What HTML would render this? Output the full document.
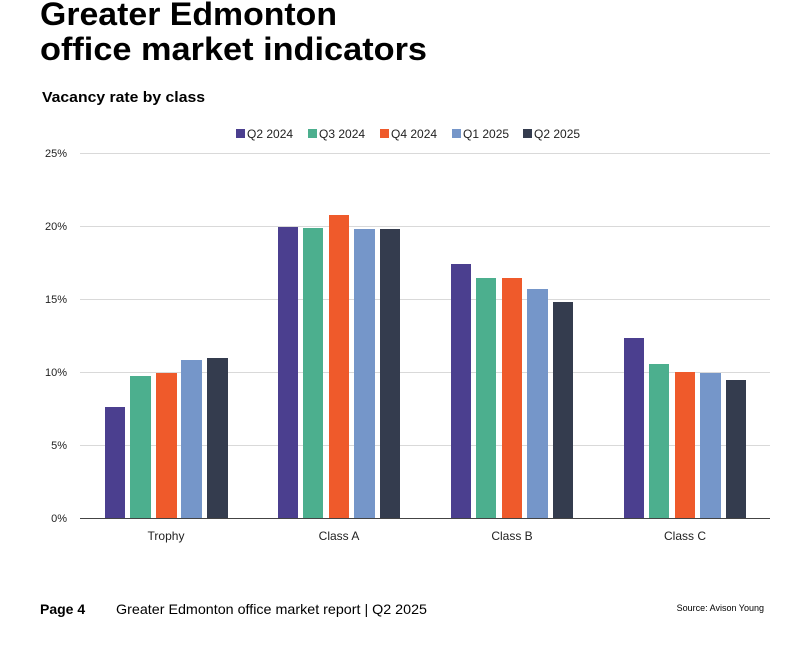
<!DOCTYPE html>
<html><head><style>
body{margin:0;background:#fff;width:789px;height:642px;overflow:hidden;font-family:"Liberation Sans",sans-serif}
</style></head><body>
<svg width="789" height="642" xmlns="http://www.w3.org/2000/svg" font-family="Liberation Sans, sans-serif">
<text x="40" y="25" font-size="32" font-weight="bold" fill="#000" textLength="297" lengthAdjust="spacingAndGlyphs">Greater Edmonton</text>
<text x="40" y="60" font-size="32" font-weight="bold" fill="#000" textLength="387" lengthAdjust="spacingAndGlyphs">office market indicators</text>
<text x="42" y="102" font-size="15" font-weight="bold" fill="#000" textLength="163" lengthAdjust="spacingAndGlyphs">Vacancy rate by class</text>
<g font-size="12" fill="#222">
<rect x="236" y="129" width="9" height="9" fill="#4b3f8f"/><text x="247" y="138">Q2 2024</text>
<rect x="308" y="129" width="9" height="9" fill="#4caf8e"/><text x="319" y="138">Q3 2024</text>
<rect x="380" y="129" width="9" height="9" fill="#ef5a2b"/><text x="391" y="138">Q4 2024</text>
<rect x="452" y="129" width="9" height="9" fill="#7596c9"/><text x="463" y="138">Q1 2025</text>
<rect x="523" y="129" width="9" height="9" fill="#343c4e"/><text x="534" y="138">Q2 2025</text>
</g>
<g stroke="#d9d9d9" stroke-width="1">
<line x1="80" y1="153.5" x2="770" y2="153.5"/><line x1="80" y1="226.5" x2="770" y2="226.5"/>
<line x1="80" y1="299.5" x2="770" y2="299.5"/><line x1="80" y1="372.5" x2="770" y2="372.5"/>
<line x1="80" y1="445.5" x2="770" y2="445.5"/>
</g>
<g font-size="11" fill="#222" text-anchor="end">
<text x="67" y="157">25%</text><text x="67" y="230">20%</text><text x="67" y="303">15%</text>
<text x="67" y="376">10%</text><text x="67" y="449">5%</text><text x="67" y="522">0%</text>
</g>
<g>
<rect x="105" y="407" width="20" height="111" fill="#4b3f8f"/>
<rect x="130" y="376" width="21" height="142" fill="#4caf8e"/>
<rect x="156" y="373" width="21" height="145" fill="#ef5a2b"/>
<rect x="181" y="360" width="21" height="158" fill="#7596c9"/>
<rect x="207" y="358" width="21" height="160" fill="#343c4e"/>
<rect x="278" y="227" width="20" height="291" fill="#4b3f8f"/>
<rect x="303" y="228" width="20" height="290" fill="#4caf8e"/>
<rect x="329" y="215" width="20" height="303" fill="#ef5a2b"/>
<rect x="354" y="229" width="21" height="289" fill="#7596c9"/>
<rect x="380" y="229" width="20" height="289" fill="#343c4e"/>
<rect x="451" y="264" width="20" height="254" fill="#4b3f8f"/>
<rect x="476" y="278" width="20" height="240" fill="#4caf8e"/>
<rect x="502" y="278" width="20" height="240" fill="#ef5a2b"/>
<rect x="527" y="289" width="21" height="229" fill="#7596c9"/>
<rect x="553" y="302" width="20" height="216" fill="#343c4e"/>
<rect x="624" y="338" width="20" height="180" fill="#4b3f8f"/>
<rect x="649" y="364" width="20" height="154" fill="#4caf8e"/>
<rect x="675" y="372" width="20" height="146" fill="#ef5a2b"/>
<rect x="700" y="373" width="21" height="145" fill="#7596c9"/>
<rect x="726" y="380" width="20" height="138" fill="#343c4e"/>
</g>
<line x1="80" y1="518.5" x2="770" y2="518.5" stroke="#444" stroke-width="1"/>
<g font-size="12" fill="#222" text-anchor="middle">
<text x="166" y="540">Trophy</text><text x="339" y="540">Class A</text>
<text x="512" y="540">Class B</text><text x="685" y="540">Class C</text>
</g>
<text x="40" y="614" font-size="14" font-weight="bold" fill="#000">Page 4</text>
<text x="116" y="614" font-size="14" fill="#000" textLength="311" lengthAdjust="spacingAndGlyphs">Greater Edmonton office market report | Q2 2025</text>
<text x="764" y="611" font-size="9" fill="#000" text-anchor="end">Source: Avison Young</text>
</svg>
</body></html>
